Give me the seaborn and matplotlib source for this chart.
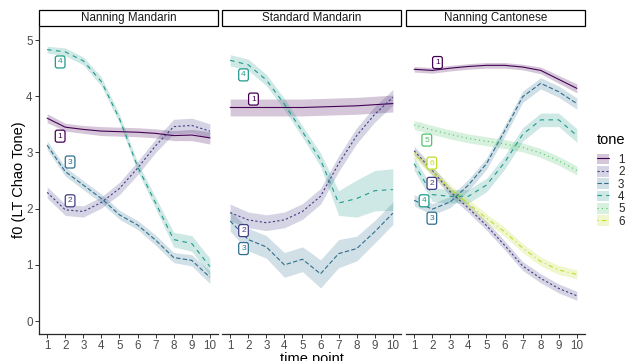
import numpy as np
import pandas as pd
import matplotlib
matplotlib.use("Agg")
import matplotlib.pyplot as plt
import seaborn as sns
from matplotlib.patches import Patch, Rectangle
from matplotlib.lines import Line2D
from matplotlib.colors import to_hex

sns.set_theme(style="ticks")
plt.rcParams["font.family"] = ["Liberation Sans", "DejaVu Sans"]

# ---------------- data ----------------
time_points = [1, 2, 3, 4, 5, 6, 7, 8, 9, 10]
languages = ["Nanning Mandarin", "Standard Mandarin", "Nanning Cantonese"]
tones = [1, 2, 3, 4, 5, 6]

# Nanning Mandarin
nm_t1 = [3.61, 3.45, 3.41, 3.38, 3.37, 3.36, 3.34, 3.30, 3.31, 3.26]
nm_t2 = [2.29, 1.98, 1.95, 2.11, 2.36, 2.72, 3.12, 3.46, 3.48, 3.38]
nm_t3 = [3.13, 2.66, 2.42, 2.18, 1.89, 1.71, 1.44, 1.13, 1.08, 0.78]
nm_t4 = [4.83, 4.79, 4.63, 4.26, 3.60, 2.75, 2.10, 1.45, 1.38, 0.97]
# Standard Mandarin
sm_t1 = [3.80, 3.80, 3.80, 3.80, 3.80, 3.81, 3.82, 3.83, 3.85, 3.87]
sm_t2 = [1.93, 1.80, 1.75, 1.80, 1.95, 2.22, 2.80, 3.30, 3.68, 3.98]
sm_t3 = [1.78, 1.45, 1.32, 1.00, 1.10, 0.84, 1.20, 1.29, 1.59, 1.92]
sm_t4 = [4.64, 4.56, 4.29, 3.86, 3.37, 2.87, 2.10, 2.18, 2.32, 2.34]
# Nanning Cantonese
nc_t1 = [4.48, 4.46, 4.50, 4.53, 4.55, 4.55, 4.52, 4.46, 4.30, 4.14]
nc_t2 = [3.03, 2.68, 2.30, 2.01, 1.70, 1.35, 0.98, 0.76, 0.58, 0.45]
nc_t3 = [2.15, 1.99, 2.12, 2.42, 2.80, 3.38, 3.99, 4.23, 4.08, 3.87]
nc_t4 = [2.80, 2.25, 2.22, 2.22, 2.42, 2.82, 3.32, 3.58, 3.58, 3.30]
nc_t5 = [3.49, 3.40, 3.32, 3.25, 3.20, 3.15, 3.09, 2.99, 2.85, 2.68]
nc_t6 = [2.98, 2.66, 2.35, 2.09, 1.83, 1.59, 1.30, 1.06, 0.91, 0.83]

# ribbon half-widths
nm_t1_se = [0.08, 0.07, 0.07, 0.08, 0.08, 0.08, 0.08, 0.09, 0.10, 0.11]
nm_t2_se = [0.10, 0.10, 0.10, 0.10, 0.11, 0.12, 0.12, 0.13, 0.13, 0.13]
nm_t3_se = [0.08, 0.08, 0.08, 0.08, 0.08, 0.08, 0.09, 0.09, 0.10, 0.11]
nm_t4_se = [0.06, 0.07, 0.07, 0.08, 0.08, 0.08, 0.10, 0.13, 0.14, 0.15]
sm_t1_se = [0.15, 0.15, 0.15, 0.15, 0.15, 0.15, 0.15, 0.15, 0.15, 0.15]
sm_t2_se = [0.15, 0.14, 0.14, 0.14, 0.14, 0.14, 0.14, 0.14, 0.14, 0.14]
sm_t3_se = [0.18, 0.20, 0.20, 0.22, 0.22, 0.25, 0.25, 0.22, 0.20, 0.20]
sm_t4_se = [0.10, 0.10, 0.10, 0.10, 0.10, 0.12, 0.22, 0.33, 0.36, 0.37]
nc_t1_se = [0.05, 0.05, 0.05, 0.05, 0.05, 0.05, 0.05, 0.06, 0.07, 0.08]
nc_t2_se = [0.08, 0.08, 0.08, 0.08, 0.08, 0.08, 0.08, 0.08, 0.08, 0.08]
nc_t3_se = [0.10, 0.10, 0.10, 0.10, 0.10, 0.10, 0.10, 0.10, 0.10, 0.10]
nc_t4_se = [0.12, 0.12, 0.12, 0.12, 0.12, 0.12, 0.12, 0.12, 0.12, 0.12]
nc_t5_se = [0.08, 0.08, 0.08, 0.08, 0.08, 0.08, 0.08, 0.08, 0.08, 0.08]
nc_t6_se = [0.08, 0.08, 0.08, 0.08, 0.08, 0.08, 0.08, 0.08, 0.08, 0.08]

series = {
    "Nanning Mandarin": {1: (nm_t1, nm_t1_se), 2: (nm_t2, nm_t2_se),
                         3: (nm_t3, nm_t3_se), 4: (nm_t4, nm_t4_se)},
    "Standard Mandarin": {1: (sm_t1, sm_t1_se), 2: (sm_t2, sm_t2_se),
                          3: (sm_t3, sm_t3_se), 4: (sm_t4, sm_t4_se)},
    "Nanning Cantonese": {1: (nc_t1, nc_t1_se), 2: (nc_t2, nc_t2_se),
                          3: (nc_t3, nc_t3_se), 4: (nc_t4, nc_t4_se),
                          5: (nc_t5, nc_t5_se), 6: (nc_t6, nc_t6_se)},
}

# direct tone labels (time point, f0)
label_tone = {
    "Nanning Mandarin": [4, 1, 3, 2],
    "Standard Mandarin": [4, 1, 2, 3],
    "Nanning Cantonese": [1, 5, 6, 2, 4, 3],
}
label_t = {
    "Nanning Mandarin": [1.72, 1.72, 2.27, 2.27],
    "Standard Mandarin": [1.74, 2.29, 1.74, 1.74],
    "Nanning Cantonese": [2.29, 1.70, 1.98, 1.98, 1.55, 1.98],
}
label_f0 = {
    "Nanning Mandarin": [4.61, 3.29, 2.83, 2.14],
    "Standard Mandarin": [4.38, 3.95, 1.61, 1.29],
    "Nanning Cantonese": [4.60, 3.22, 2.81, 2.45, 2.14, 1.83],
}

rows = []
for lang, d in series.items():
    for tone, (vals, se) in d.items():
        for tp, v, s in zip(time_points, vals, se):
            rows.append(dict(language=lang, tone=tone, t=tp, f0=v, lo=v - s, hi=v + s))
df = pd.DataFrame(rows)

# ---------------- style ----------------
cols = plt.cm.viridis(np.linspace(0, 0.9, 6))
palette = {tn: to_hex(c) for tn, c in zip(tones, cols)}
dashes = {1: "", 2: (2, 2), 3: (4, 2), 4: (4, 4), 5: (1, 3), 6: (1, 3, 4, 3)}
LW = 0.8

W, H = 626, 361
fig = plt.figure(figsize=(W / 100, H / 100), dpi=100)
panels_px = [(39, 218), (222, 401), (406, 585)]
top_px, bot_px = 26, 334
strip_h = 16

tick_col = "#4D4D4D"
for i, (lang, (l, r)) in enumerate(zip(languages, panels_px)):
    ax = fig.add_axes([l / W, 1 - bot_px / H, (r - l) / W, (bot_px - top_px) / H])
    sub = df[df.language == lang]
    for tn in sorted(sub.tone.unique()):
        s = sub[sub.tone == tn]
        ax.fill_between(s.t, s.lo, s.hi, color=palette[tn], alpha=0.22, lw=0)
    sns.lineplot(data=sub, x="t", y="f0", hue="tone", style="tone",
                 palette=palette, dashes=dashes, linewidth=LW,
                 errorbar=None, legend=False, ax=ax)
    for tn, tx, ty in zip(label_tone[lang], label_t[lang], label_f0[lang]):
        ax.text(tx, ty, str(tn), ha="center", va="center", fontsize=6,
                color=palette[tn],
                bbox=dict(boxstyle="round,pad=0.3,rounding_size=0.25",
                          fc="white", ec=palette[tn], lw=0.9))
    ax.set_xlim(0.55, 10.45)
    ax.set_ylim(-0.23, 5.25)
    ax.set_xticks(time_points)
    ax.set_yticks([0, 1, 2, 3, 4, 5])
    ax.set_xlabel("")
    ax.set_ylabel("")
    ax.spines["top"].set_visible(False)
    ax.spines["right"].set_visible(False)
    ax.spines["bottom"].set_linewidth(0.9)
    ax.spines["left"].set_linewidth(0.9)
    ax.tick_params(axis="both", labelsize=8.4, labelcolor=tick_col, color="#333333",
                   length=2.6, width=0.7, pad=2)
    if i > 0:
        ax.spines["left"].set_visible(False)
        ax.tick_params(axis="y", left=False, labelleft=False)
    # strip
    hfrac = strip_h / (bot_px - top_px)
    ax.add_patch(Rectangle((0, 1), 1, hfrac, transform=ax.transAxes, fc="white",
                           ec="black", lw=0.9, clip_on=False))
    ax.text(0.5, 1 + hfrac / 2, lang, transform=ax.transAxes, ha="center",
            va="center", fontsize=8.4, color="#1A1A1A")

fig.text(19 / W, 1 - (top_px + bot_px) / 2 / H, "f0 (LT Chao Tone)", rotation=90,
         ha="center", va="center", fontsize=10.5, color="black")
fig.text(311.5 / W, 1 - 358.5 / H, "time point", ha="center", va="center",
         fontsize=10.5, color="black")

# legend
fig.text(597 / W, 1 - 140 / H, "tone", ha="left", va="center", fontsize=10.5,
         color="black")
handles = []
for tn in tones:
    handles.append((Patch(facecolor=palette[tn], alpha=0.22, edgecolor="none"),
                    Line2D([], [], color=palette[tn], lw=LW,
                           dashes=dashes[tn] if dashes[tn] else (None, None))))
leg = fig.legend(handles, [str(t) for t in tones], loc="upper left",
                 bbox_to_anchor=(597 / W, 1 - 153.5 / H), frameon=False,
                 fontsize=8.4, handlelength=1.05,
                 handleheight=1.05, labelspacing=0.0, handletextpad=0.75,
                 borderpad=0, borderaxespad=0)

fig.savefig("out.png", dpi=100)
